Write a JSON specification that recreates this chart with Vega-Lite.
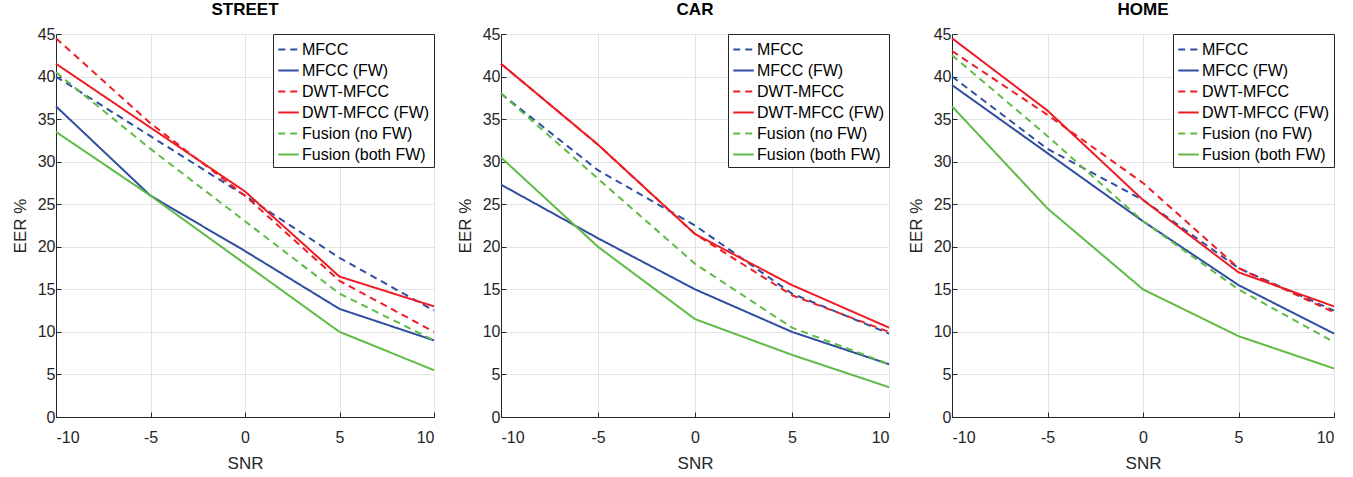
{
  "$schema": "https://vega.github.io/schema/vega-lite/v6.json",
  "padding": {"left": 10, "top": 0, "right": 5, "bottom": 5},
  "background": "white",
  "config": {
    "font": "Liberation Sans",
    "view": {"stroke": "#262626", "strokeWidth": 1},
    "axis": {
      "domainColor": "#262626",
      "tickColor": "#262626",
      "labelColor": "#262626",
      "titleColor": "#262626",
      "labelFontSize": 16,
      "titleFontSize": 17,
      "titleFontWeight": "normal",
      "gridColor": "#e3e3e3",
      "tickSize": -5,
      "labelExpr": "'' + datum.value"
    },
    "axisX": {"labelPadding": 17, "titlePadding": 10},
    "axisY": {"labelPadding": 6, "titlePadding": 8},
    "title": {"fontSize": 17, "fontWeight": "bold", "color": "#000000", "offset": 7},
    "legend": {
      "orient": "top-right",
      "offset": 0,
      "strokeColor": "#262626",
      "fillColor": "white",
      "padding": 4,
      "labelFontSize": 16,
      "labelColor": "#000000",
      "symbolType": "stroke",
      "symbolSize": 420,
      "symbolStrokeWidth": 2,
      "rowPadding": 1,
      "labelOffset": 2
    }
  },
  "data": {
    "values": [
      {"env": "STREET", "series": "MFCC", "snr": -10, "eer": 40},
      {"env": "STREET", "series": "MFCC", "snr": -5, "eer": 33},
      {"env": "STREET", "series": "MFCC", "snr": 0, "eer": 26},
      {"env": "STREET", "series": "MFCC", "snr": 5, "eer": 18.7},
      {"env": "STREET", "series": "MFCC", "snr": 10, "eer": 12.5},
      {"env": "STREET", "series": "MFCC (FW)", "snr": -10, "eer": 36.5},
      {"env": "STREET", "series": "MFCC (FW)", "snr": -5, "eer": 26},
      {"env": "STREET", "series": "MFCC (FW)", "snr": 0, "eer": 19.5},
      {"env": "STREET", "series": "MFCC (FW)", "snr": 5, "eer": 12.7},
      {"env": "STREET", "series": "MFCC (FW)", "snr": 10, "eer": 9},
      {"env": "STREET", "series": "DWT-MFCC", "snr": -10, "eer": 44.5},
      {"env": "STREET", "series": "DWT-MFCC", "snr": -5, "eer": 34.5},
      {"env": "STREET", "series": "DWT-MFCC", "snr": 0, "eer": 26},
      {"env": "STREET", "series": "DWT-MFCC", "snr": 5, "eer": 16},
      {"env": "STREET", "series": "DWT-MFCC", "snr": 10, "eer": 10},
      {"env": "STREET", "series": "DWT-MFCC (FW)", "snr": -10, "eer": 41.5},
      {"env": "STREET", "series": "DWT-MFCC (FW)", "snr": -5, "eer": 34},
      {"env": "STREET", "series": "DWT-MFCC (FW)", "snr": 0, "eer": 26.5},
      {"env": "STREET", "series": "DWT-MFCC (FW)", "snr": 5, "eer": 16.5},
      {"env": "STREET", "series": "DWT-MFCC (FW)", "snr": 10, "eer": 13},
      {"env": "STREET", "series": "Fusion (no FW)", "snr": -10, "eer": 40.5},
      {"env": "STREET", "series": "Fusion (no FW)", "snr": -5, "eer": 31.5},
      {"env": "STREET", "series": "Fusion (no FW)", "snr": 0, "eer": 23},
      {"env": "STREET", "series": "Fusion (no FW)", "snr": 5, "eer": 14.5},
      {"env": "STREET", "series": "Fusion (no FW)", "snr": 10, "eer": 9},
      {"env": "STREET", "series": "Fusion (both FW)", "snr": -10, "eer": 33.5},
      {"env": "STREET", "series": "Fusion (both FW)", "snr": -5, "eer": 26},
      {"env": "STREET", "series": "Fusion (both FW)", "snr": 0, "eer": 18},
      {"env": "STREET", "series": "Fusion (both FW)", "snr": 5, "eer": 10},
      {"env": "STREET", "series": "Fusion (both FW)", "snr": 10, "eer": 5.5},

      {"env": "CAR", "series": "MFCC", "snr": -10, "eer": 38},
      {"env": "CAR", "series": "MFCC", "snr": -5, "eer": 29},
      {"env": "CAR", "series": "MFCC", "snr": 0, "eer": 22.5},
      {"env": "CAR", "series": "MFCC", "snr": 5, "eer": 14.5},
      {"env": "CAR", "series": "MFCC", "snr": 10, "eer": 9.8},
      {"env": "CAR", "series": "MFCC (FW)", "snr": -10, "eer": 27.3},
      {"env": "CAR", "series": "MFCC (FW)", "snr": -5, "eer": 21},
      {"env": "CAR", "series": "MFCC (FW)", "snr": 0, "eer": 15},
      {"env": "CAR", "series": "MFCC (FW)", "snr": 5, "eer": 10},
      {"env": "CAR", "series": "MFCC (FW)", "snr": 10, "eer": 6.2},
      {"env": "CAR", "series": "DWT-MFCC", "snr": -10, "eer": 41.5},
      {"env": "CAR", "series": "DWT-MFCC", "snr": -5, "eer": 32},
      {"env": "CAR", "series": "DWT-MFCC", "snr": 0, "eer": 21.5},
      {"env": "CAR", "series": "DWT-MFCC", "snr": 5, "eer": 14.3},
      {"env": "CAR", "series": "DWT-MFCC", "snr": 10, "eer": 10},
      {"env": "CAR", "series": "DWT-MFCC (FW)", "snr": -10, "eer": 41.5},
      {"env": "CAR", "series": "DWT-MFCC (FW)", "snr": -5, "eer": 32},
      {"env": "CAR", "series": "DWT-MFCC (FW)", "snr": 0, "eer": 21.5},
      {"env": "CAR", "series": "DWT-MFCC (FW)", "snr": 5, "eer": 15.5},
      {"env": "CAR", "series": "DWT-MFCC (FW)", "snr": 10, "eer": 10.5},
      {"env": "CAR", "series": "Fusion (no FW)", "snr": -10, "eer": 38},
      {"env": "CAR", "series": "Fusion (no FW)", "snr": -5, "eer": 28},
      {"env": "CAR", "series": "Fusion (no FW)", "snr": 0, "eer": 18},
      {"env": "CAR", "series": "Fusion (no FW)", "snr": 5, "eer": 10.5},
      {"env": "CAR", "series": "Fusion (no FW)", "snr": 10, "eer": 6.2},
      {"env": "CAR", "series": "Fusion (both FW)", "snr": -10, "eer": 30.5},
      {"env": "CAR", "series": "Fusion (both FW)", "snr": -5, "eer": 20},
      {"env": "CAR", "series": "Fusion (both FW)", "snr": 0, "eer": 11.5},
      {"env": "CAR", "series": "Fusion (both FW)", "snr": 5, "eer": 7.3},
      {"env": "CAR", "series": "Fusion (both FW)", "snr": 10, "eer": 3.5},

      {"env": "HOME", "series": "MFCC", "snr": -10, "eer": 40},
      {"env": "HOME", "series": "MFCC", "snr": -5, "eer": 31.5},
      {"env": "HOME", "series": "MFCC", "snr": 0, "eer": 25.5},
      {"env": "HOME", "series": "MFCC", "snr": 5, "eer": 17.5},
      {"env": "HOME", "series": "MFCC", "snr": 10, "eer": 12.5},
      {"env": "HOME", "series": "MFCC (FW)", "snr": -10, "eer": 39},
      {"env": "HOME", "series": "MFCC (FW)", "snr": -5, "eer": 31},
      {"env": "HOME", "series": "MFCC (FW)", "snr": 0, "eer": 23},
      {"env": "HOME", "series": "MFCC (FW)", "snr": 5, "eer": 15.5},
      {"env": "HOME", "series": "MFCC (FW)", "snr": 10, "eer": 9.8},
      {"env": "HOME", "series": "DWT-MFCC", "snr": -10, "eer": 43},
      {"env": "HOME", "series": "DWT-MFCC", "snr": -5, "eer": 35.5},
      {"env": "HOME", "series": "DWT-MFCC", "snr": 0, "eer": 27.5},
      {"env": "HOME", "series": "DWT-MFCC", "snr": 5, "eer": 17.5},
      {"env": "HOME", "series": "DWT-MFCC", "snr": 10, "eer": 12.3},
      {"env": "HOME", "series": "DWT-MFCC (FW)", "snr": -10, "eer": 44.5},
      {"env": "HOME", "series": "DWT-MFCC (FW)", "snr": -5, "eer": 36},
      {"env": "HOME", "series": "DWT-MFCC (FW)", "snr": 0, "eer": 25.5},
      {"env": "HOME", "series": "DWT-MFCC (FW)", "snr": 5, "eer": 17},
      {"env": "HOME", "series": "DWT-MFCC (FW)", "snr": 10, "eer": 13},
      {"env": "HOME", "series": "Fusion (no FW)", "snr": -10, "eer": 42.5},
      {"env": "HOME", "series": "Fusion (no FW)", "snr": -5, "eer": 33},
      {"env": "HOME", "series": "Fusion (no FW)", "snr": 0, "eer": 23},
      {"env": "HOME", "series": "Fusion (no FW)", "snr": 5, "eer": 15},
      {"env": "HOME", "series": "Fusion (no FW)", "snr": 10, "eer": 8.8},
      {"env": "HOME", "series": "Fusion (both FW)", "snr": -10, "eer": 36.5},
      {"env": "HOME", "series": "Fusion (both FW)", "snr": -5, "eer": 24.5},
      {"env": "HOME", "series": "Fusion (both FW)", "snr": 0, "eer": 15},
      {"env": "HOME", "series": "Fusion (both FW)", "snr": 5, "eer": 9.5},
      {"env": "HOME", "series": "Fusion (both FW)", "snr": 10, "eer": 5.7}
    ]
  },
  "spacing": 12,
  "resolve": {
    "scale": {"color": "independent", "strokeDash": "independent"},
    "legend": {"color": "independent", "strokeDash": "independent"}
  },
  "hconcat": [
    {
      "spacing": 16,
      "resolve": {
        "scale": {"color": "independent", "strokeDash": "independent"},
        "legend": {"color": "independent", "strokeDash": "independent"}
      },
      "hconcat": [
        {
          "width": 378, "height": 383,
          "title": "STREET",
          "transform": [{"filter": "datum.env === 'STREET'"}],
          "mark": {"type": "line", "strokeWidth": 2},
          "encoding": {
            "x": {"field": "snr", "type": "quantitative", "scale": {"domain": [-10, 10], "nice": false}, "axis": {"values": [-10, -5, 0, 5, 10], "title": "SNR"}},
            "y": {"field": "eer", "type": "quantitative", "scale": {"domain": [0, 45], "nice": false}, "axis": {"values": [0, 5, 10, 15, 20, 25, 30, 35, 40, 45], "title": "EER %"}},
            "color": {"field": "series", "type": "nominal", "title": null, "sort": null,
              "scale": {"domain": ["MFCC", "MFCC (FW)", "DWT-MFCC", "DWT-MFCC (FW)", "Fusion (no FW)", "Fusion (both FW)"],
                        "range": ["#2f4ea0", "#2f4ea0", "#ee1d25", "#ee1d25", "#60ba46", "#60ba46"]}},
            "strokeDash": {"field": "series", "type": "nominal", "title": null, "sort": null,
              "scale": {"domain": ["MFCC", "MFCC (FW)", "DWT-MFCC", "DWT-MFCC (FW)", "Fusion (no FW)", "Fusion (both FW)"],
                        "range": [[7, 5], [1, 0], [7, 5], [1, 0], [7, 5], [1, 0]]}}
          }
        },
        {
          "width": 388, "height": 383,
          "title": "CAR",
          "transform": [{"filter": "datum.env === 'CAR'"}],
          "mark": {"type": "line", "strokeWidth": 2},
          "encoding": {
            "x": {"field": "snr", "type": "quantitative", "scale": {"domain": [-10, 10], "nice": false}, "axis": {"values": [-10, -5, 0, 5, 10], "title": "SNR"}},
            "y": {"field": "eer", "type": "quantitative", "scale": {"domain": [0, 45], "nice": false}, "axis": {"values": [0, 5, 10, 15, 20, 25, 30, 35, 40, 45], "title": "EER %"}},
            "color": {"field": "series", "type": "nominal", "title": null, "sort": null,
              "scale": {"domain": ["MFCC", "MFCC (FW)", "DWT-MFCC", "DWT-MFCC (FW)", "Fusion (no FW)", "Fusion (both FW)"],
                        "range": ["#2f4ea0", "#2f4ea0", "#ee1d25", "#ee1d25", "#60ba46", "#60ba46"]}},
            "strokeDash": {"field": "series", "type": "nominal", "title": null, "sort": null,
              "scale": {"domain": ["MFCC", "MFCC (FW)", "DWT-MFCC", "DWT-MFCC (FW)", "Fusion (no FW)", "Fusion (both FW)"],
                        "range": [[7, 5], [1, 0], [7, 5], [1, 0], [7, 5], [1, 0]]}}
          }
        }
      ]
    },
    {
      "width": 382, "height": 383,
      "title": "HOME",
      "transform": [{"filter": "datum.env === 'HOME'"}],
      "mark": {"type": "line", "strokeWidth": 2},
      "encoding": {
        "x": {"field": "snr", "type": "quantitative", "scale": {"domain": [-10, 10], "nice": false}, "axis": {"values": [-10, -5, 0, 5, 10], "title": "SNR"}},
        "y": {"field": "eer", "type": "quantitative", "scale": {"domain": [0, 45], "nice": false}, "axis": {"values": [0, 5, 10, 15, 20, 25, 30, 35, 40, 45], "title": "EER %"}},
        "color": {"field": "series", "type": "nominal", "title": null, "sort": null,
          "scale": {"domain": ["MFCC", "MFCC (FW)", "DWT-MFCC", "DWT-MFCC (FW)", "Fusion (no FW)", "Fusion (both FW)"],
                    "range": ["#2f4ea0", "#2f4ea0", "#ee1d25", "#ee1d25", "#60ba46", "#60ba46"]}},
        "strokeDash": {"field": "series", "type": "nominal", "title": null, "sort": null,
          "scale": {"domain": ["MFCC", "MFCC (FW)", "DWT-MFCC", "DWT-MFCC (FW)", "Fusion (no FW)", "Fusion (both FW)"],
                    "range": [[7, 5], [1, 0], [7, 5], [1, 0], [7, 5], [1, 0]]}}
      }
    }
  ]
}
